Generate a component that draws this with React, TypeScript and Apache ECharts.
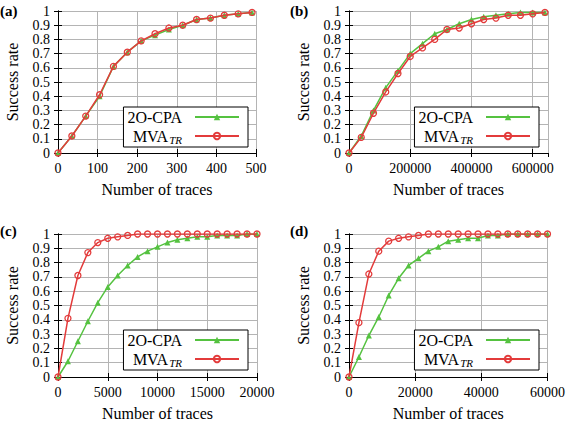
import React, { useEffect, useRef } from "react";
import * as echarts from "echarts";

// ---- data ----
const seriesNames = ["2O-CPA", "MVA_TR"];
const panelLabels = ["(a)", "(b)", "(c)", "(d)"];
const xAxisTitle = "Number of traces";
const yAxisTitle = "Success rate";

const aX = [0, 35, 70, 105, 140, 175, 210, 245, 280, 315, 350, 385, 420, 455, 490];
const aCpa = [0, 0.12, 0.26, 0.4, 0.61, 0.71, 0.79, 0.83, 0.87, 0.9, 0.94, 0.95, 0.97, 0.98, 0.99];
const aMva = [0, 0.12, 0.26, 0.41, 0.61, 0.71, 0.79, 0.84, 0.88, 0.9, 0.94, 0.95, 0.97, 0.98, 0.99];

const bX = [0, 40000, 80000, 120000, 160000, 200000, 240000, 280000, 320000, 360000, 400000, 440000, 480000, 520000, 560000, 600000, 640000];
const bCpa = [0, 0.12, 0.3, 0.46, 0.58, 0.7, 0.77, 0.84, 0.87, 0.91, 0.94, 0.96, 0.97, 0.98, 0.99, 0.99, 0.99];
const bMva = [0, 0.11, 0.28, 0.43, 0.56, 0.68, 0.74, 0.8, 0.87, 0.88, 0.91, 0.94, 0.95, 0.97, 0.97, 0.98, 0.99];

const cX = [0, 1000, 2000, 3000, 4000, 5000, 6000, 7000, 8000, 9000, 10000, 11000, 12000, 13000, 14000, 15000, 16000, 17000, 18000, 19000, 20000];
const cCpa = [0, 0.11, 0.25, 0.39, 0.52, 0.63, 0.71, 0.78, 0.84, 0.88, 0.91, 0.94, 0.96, 0.97, 0.98, 0.98, 0.99, 0.99, 0.99, 1, 1];
const cMva = [0, 0.41, 0.71, 0.87, 0.94, 0.97, 0.98, 0.99, 1, 1, 1, 1, 1, 1, 1, 1, 1, 1, 1, 1, 1];

const dX = [0, 3000, 6000, 9000, 12000, 15000, 18000, 21000, 24000, 27000, 30000, 33000, 36000, 39000, 42000, 45000, 48000, 51000, 54000, 57000, 60000];
const dCpa = [0, 0.14, 0.29, 0.42, 0.57, 0.69, 0.78, 0.83, 0.88, 0.91, 0.95, 0.96, 0.97, 0.97, 0.99, 0.99, 1, 1, 1, 1, 1];
const dMva = [0, 0.38, 0.72, 0.88, 0.95, 0.97, 0.98, 0.99, 1, 1, 1, 1, 1, 1, 1, 1, 1, 1, 1, 1, 1];

const xMax = [500, 650000, 20000, 60000];
const xInterval = [100, 200000, 5000, 20000];
const yMin = 0;
const yMax = 1;
const yInterval = 0.1;

const panelX = [aX, bX, cX, dX];
const panelCpa = [aCpa, bCpa, cCpa, dCpa];
const panelMva = [aMva, bMva, cMva, dMva];

// ---- layout / style ----
const FONT = "Liberation Serif";
const GREEN = "#55c240";
const RED = "#e33b3b";
const GRID_COLOR = "#b4b4b4";

const grids = [
  { left: 58, top: 11, width: 198, height: 142 },
  { left: 349, top: 11, width: 199, height: 142 },
  { left: 58, top: 234, width: 199, height: 143 },
  { left: 349, top: 234, width: 199, height: 143 },
];
const legendPos = [
  { right: 320, top: 107 },
  { right: 29, top: 107 },
  { right: 320, top: 330 },
  { right: 29, top: 330 },
];
const labelPos = [
  { left: 0, top: 3 },
  { left: 290, top: 3 },
  { left: 0, top: 223 },
  { left: 290, top: 223 },
];

function buildOption() {
  const xAxes: any[] = [];
  const yAxes: any[] = [];
  const series: any[] = [];
  const legends: any[] = [];
  const graphics: any[] = [];

  grids.forEach((_, i) => {
    xAxes.push({
      type: "value",
      gridIndex: i,
      min: 0,
      max: xMax[i],
      interval: xInterval[i],
      name: xAxisTitle,
      nameLocation: "middle",
      nameGap: 28,
      nameTextStyle: { fontFamily: FONT, fontSize: 16, color: "#000" },
      axisLine: { show: true, lineStyle: { color: "#000", width: 1 } },
      axisTick: { show: true, inside: true, length: 4, lineStyle: { color: "#000" } },
      axisLabel: {
        fontFamily: FONT,
        fontSize: 14,
        color: "#000",
        margin: 8,
        showMaxLabel: i === 1 ? false : true,
        formatter: (val: number) => String(val),
      },
      splitLine: { show: true, lineStyle: { color: GRID_COLOR, width: 1 } },
    });
    yAxes.push({
      type: "value",
      gridIndex: i,
      min: yMin,
      max: yMax,
      interval: yInterval,
      name: yAxisTitle,
      nameLocation: "middle",
      nameGap: 38,
      nameRotate: 90,
      nameTextStyle: { fontFamily: FONT, fontSize: 16, color: "#000" },
      axisLine: { show: true, lineStyle: { color: "#000", width: 1 } },
      axisTick: { show: true, inside: true, length: 4, lineStyle: { color: "#000" } },
      axisLabel: {
        fontFamily: FONT,
        fontSize: 14,
        color: "#000",
        margin: 8,
        formatter: (val: number) => String(Math.round(val * 10) / 10),
      },
      splitLine: { show: true, lineStyle: { color: GRID_COLOR, width: 1 } },
    });
  });
  // mirrored tick axes (top / right)
  grids.forEach((_, i) => {
    xAxes.push({
      type: "value",
      gridIndex: i,
      position: "top",
      min: 0,
      max: xMax[i],
      interval: xInterval[i],
      axisLine: { show: true, lineStyle: { color: "#000", width: 1 } },
      axisTick: { show: true, inside: true, length: 4, lineStyle: { color: "#000" } },
      axisLabel: { show: false },
      splitLine: { show: false },
    });
    yAxes.push({
      type: "value",
      gridIndex: i,
      position: "right",
      min: yMin,
      max: yMax,
      interval: yInterval,
      axisLine: { show: true, lineStyle: { color: "#000", width: 1 } },
      axisTick: { show: true, inside: true, length: 4, lineStyle: { color: "#000" } },
      axisLabel: { show: false },
      splitLine: { show: false },
    });
  });

  grids.forEach((_, i) => {
    const xs = panelX[i];
    series.push({
      name: seriesNames[0],
      type: "line",
      xAxisIndex: i,
      yAxisIndex: i,
      data: xs.map((x, k) => [x, panelCpa[i][k]]),
      symbol: "triangle",
      symbolSize: 6,
      lineStyle: { color: GREEN, width: 1.5 },
      itemStyle: { color: GREEN },
      z: 3,
    });
    series.push({
      name: seriesNames[1],
      type: "line",
      xAxisIndex: i,
      yAxisIndex: i,
      data: xs.map((x, k) => [x, panelMva[i][k]]),
      symbol: "circle",
      symbolSize: 6,
      lineStyle: { color: RED, width: 1.5 },
      itemStyle: { color: "rgba(0,0,0,0)", borderColor: RED, borderWidth: 1.3 },
      z: 4,
    });
    legends.push({
      orient: "vertical",
      right: legendPos[i].right,
      top: legendPos[i].top,
      data: seriesNames,
      align: "right",
      itemWidth: 44,
      itemHeight: 8,
      itemGap: 3,
      padding: [2, 8, 2, 4],
      borderColor: "#000",
      borderWidth: 1,
      borderRadius: 0,
      backgroundColor: "#fff",
      selectedMode: false,
      formatter: (name: string) => (name === "MVA_TR" ? "{m|MVA}{s|TR}" : "{m|" + name + "}"),
      textStyle: {
        fontFamily: FONT,
        fontSize: 16,
        color: "#000",
        padding: [0, 8, 0, 0],
        rich: {
          m: { fontFamily: FONT, fontSize: 16, color: "#000", lineHeight: 18 },
          s: {
            fontFamily: FONT,
            fontSize: 11,
            fontStyle: "italic",
            color: "#000",
            lineHeight: 10,
            verticalAlign: "bottom",
            padding: [0, 0, 0, 1],
          },
        },
      },
    });
    graphics.push({
      type: "text",
      left: labelPos[i].left,
      top: labelPos[i].top,
      style: {
        text: panelLabels[i],
        font: "bold 15px Liberation Serif",
        fill: "#000",
      },
    });
  });

  return {
    animation: false,
    backgroundColor: "#fff",
    textStyle: { fontFamily: FONT },
    grid: grids.map((g) => ({ ...g, show: false, containLabel: false })),
    xAxis: xAxes,
    yAxis: yAxes,
    series,
    legend: legends,
    graphic: graphics,
  };
}

export default function App() {
  const ref = useRef<HTMLDivElement>(null);
  useEffect(() => {
    document.body.style.margin = "0";
    if (!ref.current) return;
    const chart = echarts.init(ref.current, undefined, { renderer: "svg" });
    chart.setOption(buildOption() as any);
    return () => chart.dispose();
  }, []);
  return <div ref={ref} style={{ width: 568, height: 422 }} />;
}
